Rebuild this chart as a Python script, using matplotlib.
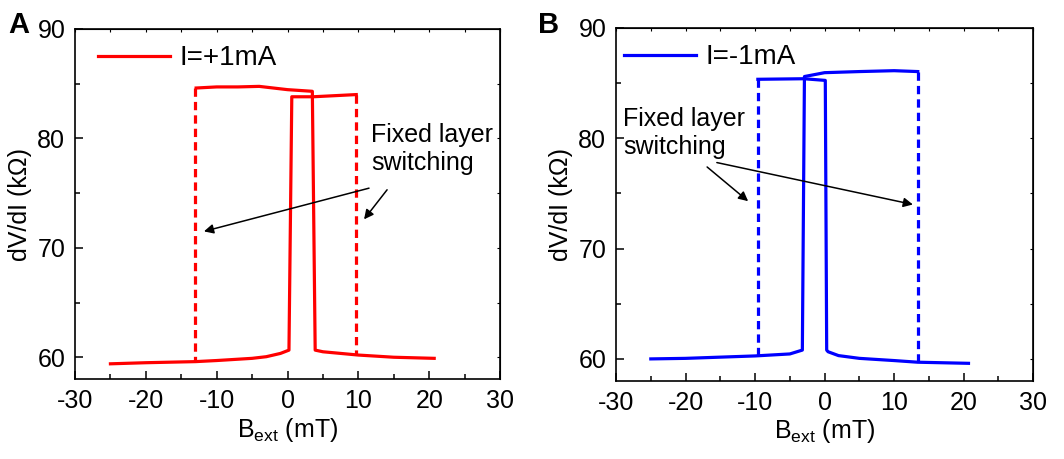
import matplotlib
matplotlib.use("Agg")
import matplotlib.pyplot as plt

plt.rcParams['font.family'] = ['Liberation Sans', 'DejaVu Sans']
plt.rcParams['mathtext.fontset'] = 'custom'
plt.rcParams['mathtext.rm'] = 'Liberation Sans'
plt.rcParams['mathtext.it'] = 'Liberation Sans'
plt.rcParams['axes.unicode_minus'] = False

# ---- Panel A, I = +1 mA ----
# sweep up (from -25 mT)
a_up_x = [-25, -20, -13, -10, -5, -3, -1, 0.2, 0.6, 3.6, 9.7]
a_up_y = [59.4, 59.5, 59.6, 59.7, 59.9, 60.05, 60.35, 60.65, 83.8, 83.8, 84.0]
# sweep down (from +20.7 mT)
a_dn_x = [20.7, 15, 10, 5, 3.9, 3.5, 0, -4, -7, -10, -12.9]
a_dn_y = [59.9, 60.0, 60.2, 60.5, 60.65, 84.3, 84.45, 84.75, 84.7, 84.7, 84.6]
# fixed layer switching (dashed)
a_sw_x = [-13.0, 9.7]
a_sw_top = [84.6, 84.0]
a_sw_bot = [59.6, 60.2]

# ---- Panel B, I = -1 mA ----
b_up_x = [-25, -20, -10, -5, -3.2, -2.9, 0, 5, 10, 13.4]
b_up_y = [60.0, 60.05, 60.27, 60.45, 60.8, 85.6, 85.95, 86.05, 86.13, 86.05]
b_dn_x = [20.7, 13.4, 10, 5, 2, 0.5, 0.3, 0.1, -3, -9.6]
b_dn_y = [59.6, 59.7, 59.85, 60.05, 60.3, 60.65, 60.8, 85.25, 85.4, 85.35]
b_sw_x = [-9.6, 13.4]
b_sw_top = [85.35, 86.05]
b_sw_bot = [60.3, 59.7]

xmajor = [-30, -20, -10, 0, 10, 20, 30]
xminor = [-25, -15, -5, 5, 15, 25]
ymajor = [60, 70, 80, 90]
yminor = [65, 75, 85]

FS = 18
LW = 2.3

fig = plt.figure(figsize=(10.64, 4.59), dpi=100)
axA = fig.add_axes([0.0705, 0.174, 0.3995, 0.763])
axB = fig.add_axes([0.579, 0.170, 0.392, 0.769])


def draw(ax, up_x, up_y, dn_x, dn_y, sw_x, sw_top, sw_bot, color, label):
    ax.plot(up_x, up_y, color=color, lw=LW, label=label)
    ax.plot(dn_x, dn_y, color=color, lw=LW)
    for x, top, bot in zip(sw_x, sw_top, sw_bot):
        ax.plot([x, x], [top, bot], color=color, lw=LW, linestyle=(0, (2.6, 1.6)))
    ax.set_xlim(-30, 30)
    ax.set_ylim(58, 90)
    ax.set_xticks(xmajor)
    ax.set_xticks(xminor, minor=True)
    ax.set_yticks(ymajor)
    ax.set_yticks(yminor, minor=True)
    ax.tick_params(which='major', direction='in', length=6, width=1.1,
                   labelsize=FS, pad=7)
    ax.tick_params(which='minor', direction='in', length=3.5, width=1.1)
    # tiny mirrored ticks on top / right
    top = ax.secondary_xaxis('top')
    top.set_xticks(xmajor + xminor)
    top.tick_params(direction='in', length=2, width=0.8, labeltop=False)
    right = ax.secondary_yaxis('right')
    right.set_yticks(ymajor + yminor)
    right.tick_params(direction='in', length=2, width=0.8, labelright=False)
    for s in ax.spines.values():
        s.set_linewidth(1.2)
    ax.set_xlabel(r'B$_{\mathrm{ext}}$ (mT)', fontsize=FS, labelpad=2)
    ax.set_ylabel(u'dV/dI (k\u03a9)', fontsize=FS, labelpad=4)


draw(axA, a_up_x, a_up_y, a_dn_x, a_dn_y, a_sw_x, a_sw_top, a_sw_bot,
     '#ff0000', 'I=+1mA')
draw(axB, b_up_x, b_up_y, b_dn_x, b_dn_y, b_sw_x, b_sw_top, b_sw_bot,
     '#0000ff', 'I=-1mA')

axA.legend(loc='upper left', frameon=False, fontsize=20, handlelength=2.6,
           handletextpad=0.35, bbox_to_anchor=(0.027, 0.985), borderaxespad=0)
axB.legend(loc='upper left', frameon=False, fontsize=20, handlelength=2.6,
           handletextpad=0.35, bbox_to_anchor=(-0.008, 0.985), borderaxespad=0)

arrow = dict(arrowstyle='-|>', color='black', lw=1.1,
             mutation_scale=14, shrinkA=0, shrinkB=0)

axA.text(11.8, 81.4, 'Fixed layer\nswitching', fontsize=FS, va='top', ha='left')
axA.annotate('', xy=(-11.8, 71.5), xytext=(11.5, 75.45), arrowprops=arrow)
axA.annotate('', xy=(10.8, 72.6), xytext=(14.05, 75.3), arrowprops=arrow)

axB.text(-29.0, 82.8, 'Fixed layer\nswitching', fontsize=FS, va='top', ha='left')
axB.annotate('', xy=(-11.0, 74.3), xytext=(-16.9, 77.4), arrowprops=arrow)
axB.annotate('', xy=(12.7, 74.0), xytext=(-15.5, 77.8), arrowprops=arrow)

fig.text(8 / 1064, 1 - 33 / 459, 'A', fontsize=21, fontweight='bold',
         ha='left', va='baseline')
fig.text(538 / 1064, 1 - 33 / 459, 'B', fontsize=21, fontweight='bold',
         ha='left', va='baseline')

fig.savefig('out.png', dpi=100)
